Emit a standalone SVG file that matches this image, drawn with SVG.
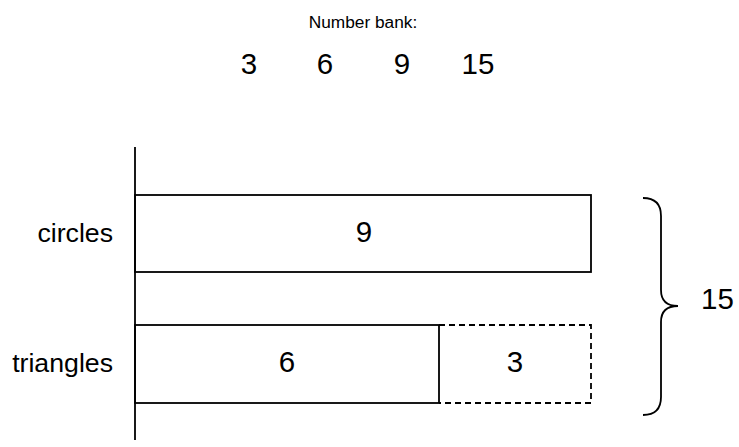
<svg xmlns="http://www.w3.org/2000/svg" width="739" height="447" viewBox="0 0 739 447">
<style>
text{font-family:"Liberation Sans",Arial,sans-serif;fill:#000}
.lbl{font-size:26.7px}
.num{font-size:29.5px}
.ln{fill:none;stroke:#000;stroke-width:1.8}
.dash{stroke-dasharray:6,4}
</style>
<rect width="739" height="447" fill="#fff"/>
<g id="bank">
<text x="363" y="28" font-size="17.3" text-anchor="middle">Number bank:</text>
<text class="num" x="249" y="74" text-anchor="middle">3</text>
<text class="num" x="325" y="74" text-anchor="middle">6</text>
<text class="num" x="402" y="74" text-anchor="middle">9</text>
<text class="num" x="478" y="74" text-anchor="middle">15</text>
</g>
<g id="axis">
<line class="ln" x1="135" y1="147" x2="135" y2="440"/>
</g>
<g id="circles">
<text class="lbl" x="113" y="242" text-anchor="end">circles</text>
<rect class="ln" x="135" y="195" width="456" height="77"/>
<text class="num" x="364" y="242" text-anchor="middle">9</text>
</g>
<g id="triangles">
<text class="lbl" x="113" y="372" text-anchor="end">triangles</text>
<rect class="ln" x="135" y="325" width="304" height="78"/>
<text class="num" x="287" y="372" text-anchor="middle">6</text>
</g>
<g id="extra">
<path class="ln dash" d="M439,325 H591 V403 H439"/>
<text class="num" x="515" y="372" text-anchor="middle">3</text>
</g>
<g id="total">
<path class="ln" d="M643,198 Q661,198 661,216 L661,290 Q661,306 678,306 Q661,306 661,322 L661,397 Q661,415 643,415"/>
<text class="num" x="701" y="309">15</text>
</g>
</svg>
